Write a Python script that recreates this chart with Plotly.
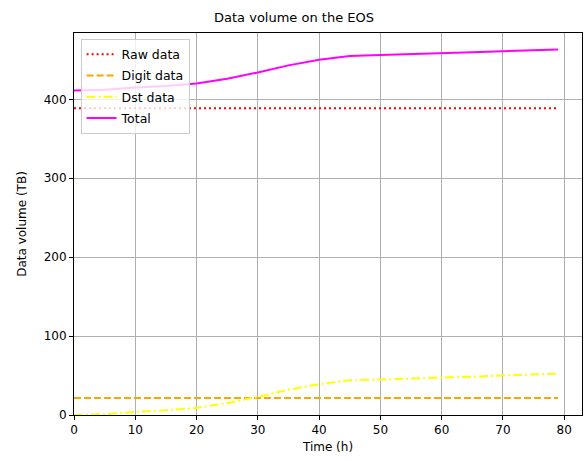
import plotly.graph_objects as go

# Time (h)
time_h = [0, 5, 10, 15, 20, 25, 30, 35, 40, 45, 50, 55, 60, 65, 70, 75, 79]
# Data volumes (TB)
raw_data = [388.5] * len(time_h)
digit_data = [21.5] * len(time_h)
dst_data = [0, 1, 4, 6, 9, 15, 23, 32, 39, 44, 45, 46, 47.5, 48.5, 50, 51, 52.5]
total_data = [411, 412, 415, 417, 420, 426, 434, 443, 450, 455, 456, 457, 458.5, 459.5, 461, 462, 463]

x_ticks = [0, 10, 20, 30, 40, 50, 60, 70, 80]
y_ticks = [0, 100, 200, 300, 400]

FONT = "DejaVu Sans"

fig = go.Figure()
fig.add_trace(go.Scatter(x=time_h, y=raw_data, mode="lines", name="Raw data", legendgroup="a",
                         line=dict(color="#ff0000", width=2, dash="2px,3px")))
fig.add_trace(go.Scatter(x=time_h, y=digit_data, mode="lines", name="Digit data", legendgroup="b",
                         line=dict(color="#ffa500", width=2, dash="7px,3px")))
fig.add_trace(go.Scatter(x=time_h, y=dst_data, mode="lines", name="Dst data", legendgroup="c",
                         line=dict(color="#ffff00", width=2, dash="9px,3px,2px,3px")))
fig.add_trace(go.Scatter(x=time_h, y=total_data, mode="lines", name="Total", legendgroup="d",
                         line=dict(color="#ff00ff", width=2)))

axis_common = dict(
    showline=True, linecolor="black", linewidth=1, mirror=True,
    ticks="outside", ticklen=4, tickcolor="black", tickwidth=1,
    showgrid=True, gridcolor="#b0b0b0", gridwidth=1,
    zeroline=False, automargin=False,
    tickfont=dict(family=FONT, size=12, color="black"),
)

fig.update_layout(
    width=588, height=461,
    margin=dict(l=74, r=6, t=33, b=46),
    paper_bgcolor="white", plot_bgcolor="white",
    title=dict(text="Data volume on the EOS", x=0.5, xanchor="center",
               y=1 - 17 / 461, yanchor="middle",
               font=dict(family=FONT, size=13, color="black")),
    xaxis=dict(range=[0, 82.9], tickvals=x_ticks,
               title=dict(text="Time (h)", font=dict(family=FONT, size=12, color="black"), standoff=6),
               **axis_common),
    yaxis=dict(range=[0, 484], tickvals=y_ticks,
               title=dict(text="Data volume (TB)", font=dict(family=FONT, size=12, color="black"), standoff=14),
               **axis_common),
    legend=dict(x=0.013, y=0.985, xanchor="left", yanchor="top",
                bgcolor="rgba(255,255,255,0.8)", bordercolor="#cccccc", borderwidth=1,
                font=dict(family=FONT, size=12.5, color="black"),
                traceorder="grouped", tracegroupgap=2, itemwidth=30),
    showlegend=True,
)

fig.write_html("out.html", config={"displayModeBar": False},
               post_script="document.body.style.margin='0';document.body.style.overflow='hidden';")
